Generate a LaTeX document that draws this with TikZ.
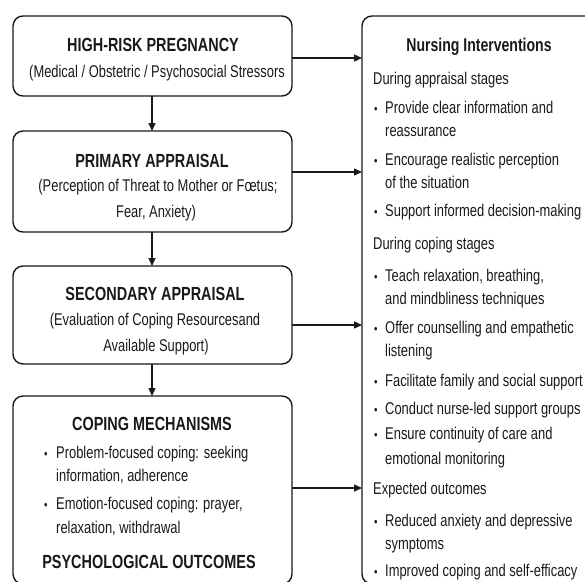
\documentclass[tikz,border=0pt]{standalone}
\usepackage{fontspec}
\setmainfont{Liberation Sans}[FakeStretch=0.76]
\usetikzlibrary{arrows.meta}
\begin{document}
\begin{tikzpicture}[x=1pt,y=-1pt,
  box/.style={draw=black!90, line width=1.4pt, rounded corners=10pt, inner sep=0pt},
  arr/.style={draw=black!90, line width=1.3pt, -{Triangle[length=8pt,width=7pt]}},
  ttl/.style={font=\fontsize{19}{22}\selectfont\bfseries, text=black!90, inner sep=0pt, anchor=base},
  rttl/.style={font=\fontsize{18.5}{21}\selectfont\bfseries, text=black!90, inner sep=0pt, anchor=base},
  sub/.style={font=\fontsize{17}{20}\selectfont, text=black!90, inner sep=0pt, anchor=base},
  txt/.style={font=\fontsize{17}{20}\selectfont, text=black!90, inner sep=0pt, anchor=base west},
  bul/.style={font=\fontsize{13}{18}\selectfont, text=black!90, inner sep=0pt, anchor=base west}
]
\useasboundingbox (0,0) rectangle (585,581);
\clip (0,0) rectangle (585,581);

% left boxes
\draw[box] (13,16) rectangle (292,96);
\coordinate (b1s) at (152,96);
\coordinate (b1e) at (292,58);
\draw[box] (13,131) rectangle (292,232);
\coordinate (b2n) at (152,131);
\coordinate (b2s) at (152,232);
\coordinate (b2e) at (292,172);
\draw[box] (13,266) rectangle (292,364);
\coordinate (b3n) at (152,266);
\coordinate (b3s) at (152,364);
\coordinate (b3e) at (292,325);
\draw[box] (13,396) rectangle (292,584);
\coordinate (b4n) at (152,396);
\coordinate (b4e) at (292,488);
% right box
\draw[box] (362,16) rectangle (600,584);
\coordinate (r1) at (362,58);
\coordinate (r2) at (362,172);
\coordinate (r3) at (362,325);
\coordinate (r4) at (362,488);

% connectors
\draw[arr] (b1s) -- (b2n);
\draw[arr] (b2s) -- (b3n);
\draw[arr] (b3s) -- (b4n);
\draw[arr] (b1e) -- (r1);
\draw[arr] (b2e) -- (r2);
\draw[arr] (b3e) -- (r3);
\draw[arr] (b4e) -- (r4);

% left texts
\node[ttl] (t1) at (153,51) {HIGH-RISK PREGNANCY};
\node[sub] (s1) at (157,77) {(Medical / Obstetric / Psychosocial Stressors};
\node[ttl] (t2) at (152,167) {PRIMARY APPRAISAL};
\node[sub] (s2a) at (158,191) {(Perception of Threat to Mother or F\oe tus;};
\node[sub] (s2b) at (156,217) {Fear, Anxiety)};
\node[ttl] (t3) at (155,300) {SECONDARY APPRAISAL};
\node[sub] (s3a) at (155,325) {(Evaluation of Coping Resourcesand};
\node[sub] (s3b) at (156,351) {Available Support)};
\node[ttl] (t4) at (152,430) {COPING MECHANISMS};
\node[bul] (lb1) at (44,458) {•};
\node[txt] (l1a) at (56,458) {Problem-focused coping: seeking};
\node[txt] (l1b) at (56,481) {information, adherence};
\node[bul] (lb2) at (44,509) {•};
\node[txt] (l2a) at (56,509) {Emotion-focused coping: prayer,};
\node[txt] (l2b) at (56,533) {relaxation, withdrawal};
\node[ttl] (t5) at (149,568) {PSYCHOLOGICAL OUTCOMES};

% right texts
\node[rttl] (rt) at (479,51) {Nursing Interventions};
\node[txt] (h1) at (373,84) {During appraisal stages};
\node[bul] (rb1) at (374,113) {•};
\node[txt] (i1a) at (385,113) {Provide clear information and};
\node[txt] (i1b) at (385,136) {reassurance};
\node[bul] (rb2) at (374,165) {•};
\node[txt] (i2a) at (385,165) {Encourage realistic perception};
\node[txt] (i2b) at (385,188) {of the situation};
\node[bul] (rb3) at (374,216) {•};
\node[txt] (i3a) at (385,216) {Support informed decision-making};
\node[txt] (h2) at (373,249) {During coping stages};
\node[bul] (rb4) at (374,281) {•};
\node[txt] (i4a) at (385,281) {Teach relaxation, breathing,};
\node[txt] (i4b) at (385,304) {and mindbliness techniques};
\node[bul] (rb5) at (374,333) {•};
\node[txt] (i5a) at (385,333) {Offer counselling and empathetic};
\node[txt] (i5b) at (385,356) {listening};
\node[bul] (rb6) at (374,386) {•};
\node[txt] (i6a) at (385,386) {Facilitate family and social support};
\node[bul] (rb7) at (374,414) {•};
\node[txt] (i7a) at (385,414) {Conduct nurse-led support groups};
\node[bul] (rb8) at (374,439) {•};
\node[txt] (i8a) at (385,439) {Ensure continuity of care and};
\node[txt] (i8b) at (385,464) {emotional monitoring};
\node[txt] (h3) at (373,494) {Expected outcomes};
\node[bul] (rb9) at (374,526) {•};
\node[txt] (i9a) at (385,526) {Reduced anxiety and depressive};
\node[txt] (i9b) at (385,549) {symptoms};
\node[bul] (rb10) at (374,576) {•};
\node[txt] (i10a) at (385,576) {Improved coping and self-efficacy};
\end{tikzpicture}
\end{document}
